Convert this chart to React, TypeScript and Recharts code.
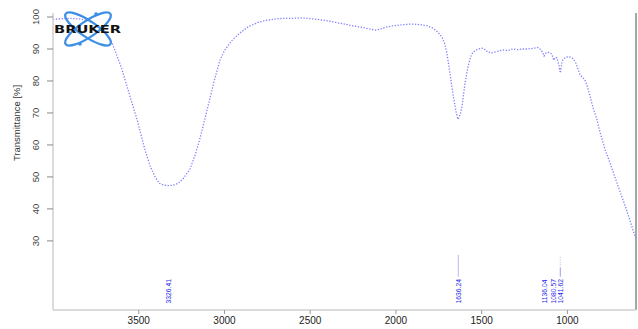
import React from "react";
import { LineChart, Line, XAxis, YAxis, ReferenceLine, ReferenceDot } from "recharts";

const wavenumbers = [
  4000, 3950, 3900, 3850, 3800, 3760, 3730, 3700, 3656, 3600, 3550, 3510, 3464, 3434, 3405, 3380,
  3350, 3326, 3300, 3270, 3240, 3201, 3170, 3143, 3115, 3085, 3055, 3026, 3000, 2960, 2910, 2860,
  2800, 2750, 2700, 2650, 2600, 2550, 2500, 2450, 2400, 2350, 2300, 2250, 2200, 2150, 2120, 2100,
  2060, 2020, 1977, 1940, 1900, 1860, 1820, 1784, 1760, 1732, 1715, 1703, 1685, 1668, 1650, 1638,
  1625, 1615, 1597, 1580, 1565, 1551, 1520, 1493, 1475, 1464, 1440, 1411, 1390, 1376, 1350, 1318,
  1290, 1260, 1236, 1200, 1172, 1155, 1145, 1136, 1128, 1115, 1102, 1090, 1080, 1070, 1061, 1050,
  1041, 1033, 1026, 1010, 1003, 985, 968, 950, 927, 910, 898, 885, 869, 850, 828, 815, 799, 780,
  752, 720, 694, 660, 636, 615, 600,
];
const transmittance = [
  99.2, 99.5, 99.6, 99.4, 99.0, 98.0, 96.5, 95.5, 92.0, 84.0, 75.0, 68.0, 58.5, 53.5, 50.0, 48.0,
  47.4, 47.3, 47.4, 48.0, 49.5, 52.5, 57.0, 62.0, 68.0, 74.5, 81.0, 86.5, 89.5, 92.5, 95.0, 97.0,
  98.4, 99.0, 99.4, 99.6, 99.6, 99.7, 99.5, 99.2, 98.8, 98.3, 97.8, 97.2, 96.8, 96.2, 95.9, 96.1,
  96.8, 97.2, 97.5, 97.7, 97.8, 97.6, 97.3, 96.5, 95.5, 93.8, 91.5, 88.7, 82.5, 76.0, 70.5, 68.0,
  69.5, 72.0, 79.4, 84.4, 87.5, 89.0, 90.0, 90.3, 89.6, 89.0, 88.8, 89.2, 89.5, 89.7, 89.5, 90.0,
  89.8, 90.0, 90.0, 90.2, 90.5, 89.8, 89.0, 87.8, 88.6, 89.0, 88.8, 88.3, 86.5, 87.4, 87.2, 85.0,
  82.5, 85.5, 86.8, 87.4, 87.5, 87.5, 87.0, 85.5, 82.0, 81.0, 80.3, 78.5, 75.5, 71.5, 68.0, 65.0,
  62.0, 58.5, 54.5, 49.5, 45.5, 40.5, 36.5, 33.0, 30.8,
];
const peakPositions = [3326.41, 1636.24, 1136.04, 1080.57, 1041.62];
const peakLabels = ["3326.41", "1636.24", "1136.04", "1080.57", "1041.62"];
const xTicks = [3500, 3000, 2500, 2000, 1500, 1000];
const yTicks = [30, 40, 50, 60, 70, 80, 90, 100];

const data = wavenumbers.map((w, i) => ({ wn: w, t: transmittance[i] }));

const YTick = (props: any) => {
  const { y, payload } = props;
  const x = 36;
  return (
    <text
      x={x}
      y={y}
      transform={`rotate(-90, ${x}, ${y})`}
      textAnchor="middle"
      dominantBaseline="central"
      fontSize={9.5}
      fill="#444"
      fontFamily="Liberation Sans, Arial, sans-serif"
    >
      {payload.value}
    </text>
  );
};

const PeakText = (label: string) => (props: any) => {
  const { cx, cy } = props;
  return (
    <text
      x={cx}
      y={cy}
      transform={`rotate(-90, ${cx}, ${cy})`}
      textAnchor="start"
      dominantBaseline="central"
      fontSize={6.8}
      fill="#2828ee"
      fontFamily="Liberation Sans, Arial, sans-serif"
    >
      {label}
    </text>
  );
};

export default function App() {
  return (
    <div style={{ position: "absolute", left: 0, top: 0, width: 638, height: 329, background: "#fff" }}>
      <LineChart width={638} height={329} data={data} margin={{ top: 13, right: 2, left: 0, bottom: 0 }}>
        <XAxis
          type="number"
          dataKey="wn"
          domain={[600, 4000]}
          reversed
          ticks={xTicks}
          height={19}
          axisLine={{ stroke: "#cfcfcf", strokeWidth: 1.5 }}
          tickLine={{ stroke: "#999" }}
          tickSize={4}
          tickMargin={3}
          tick={{ fontSize: 10, fill: "#222", fontFamily: "Liberation Sans, Arial, sans-serif" }}
        />
        <YAxis
          type="number"
          domain={[8.4, 101.25]}
          ticks={yTicks}
          width={53}
          axisLine={{ stroke: "#cfcfcf", strokeWidth: 1.5 }}
          tickLine={{ stroke: "#888" }}
          tickSize={6}
          tick={<YTick />}
          label={{
            content: () => (
              <text
                x={16}
                y={123}
                transform="rotate(-90, 16, 123)"
                textAnchor="middle"
                dominantBaseline="central"
                fontSize={9.5}
                fill="#333"
                fontFamily="Liberation Sans, Arial, sans-serif"
              >
                Transmittance [%]
              </text>
            ),
          }}
        />
        <ReferenceLine x={600} stroke="#888" strokeWidth={1.5} />
        <ReferenceLine
          segment={[{ x: 1636.24, y: 18.8 }, { x: 1636.24, y: 25.6 }]}
          stroke="#b8b8f0"
        />
        <ReferenceLine
          segment={[{ x: 1041.62, y: 18.8 }, { x: 1041.62, y: 21.6 }]}
          stroke="#9a9af0"
        />
        <ReferenceLine
          segment={[{ x: 1041.62, y: 21.6 }, { x: 1041.62, y: 25.3 }]}
          stroke="#b8b8f0"
          strokeDasharray="1 1.5"
        />
        {peakPositions.map((p, i) => (
          <ReferenceDot key={i} x={p} y={10.4} r={0} shape={PeakText(peakLabels[i])} />
        ))}
        <Line
          type="linear"
          dataKey="t"
          stroke="#8080ff"
          strokeWidth={1.3}
          strokeDasharray="1.3 1.6"
          dot={false}
          isAnimationActive={false}
        />
      </LineChart>
      <svg
        width={638}
        height={329}
        style={{ position: "absolute", left: 0, top: 0, pointerEvents: "none" }}
      >
        <ellipse cx={88} cy={29} rx={27} ry={8} fill="none" stroke="#3d8fe6" strokeWidth={2.3} transform="rotate(34, 88, 29)" />
        <ellipse cx={88} cy={29} rx={27} ry={8} fill="none" stroke="#3d8fe6" strokeWidth={2.3} transform="rotate(-34, 88, 29)" />
        <circle cx={80} cy={44} r={1.8} fill="#3d8fe6" />
        <circle cx={96} cy={14} r={1.8} fill="#3d8fe6" />
        <text
          x={54}
          y={33}
          fontSize={10.5}
          fontWeight={900}
          fill="#111"
          textLength={67}
          lengthAdjust="spacingAndGlyphs"
          fontFamily="DejaVu Sans, sans-serif"
        >
          BRUKER
        </text>
      </svg>
    </div>
  );
}
